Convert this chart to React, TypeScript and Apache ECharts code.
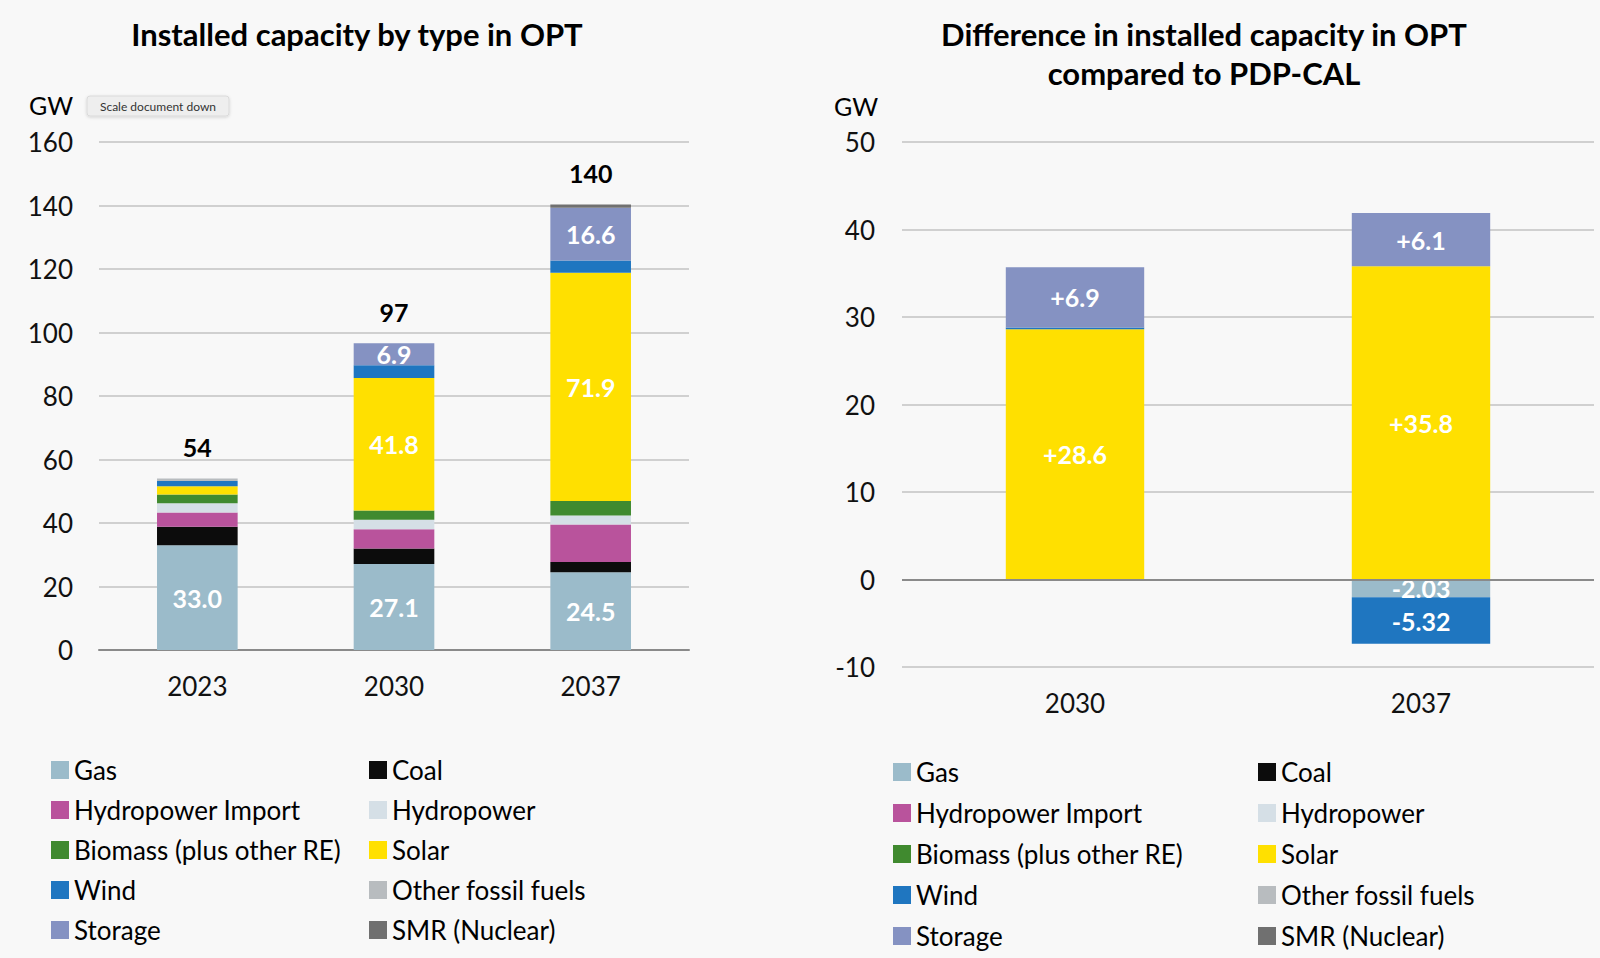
import React, { useEffect, useRef } from "react";
import * as echarts from "echarts";

// ---------- Data ----------
const yearsLeft = ["2023", "2030", "2037"];
const gas = [33.0, 27.1, 24.5];
const coal = [5.8, 4.9, 3.2];
const hydroImport = [4.5, 6.0, 11.8];
const hydropower = [2.9, 3.0, 2.9];
const biomass = [2.8, 2.9, 4.5];
const solar = [2.6, 41.8, 71.9];
const wind = [1.6, 4.0, 3.9];
const otherFossil = [0.8, 0, 0];
const storage = [0, 6.9, 16.6];
const smr = [0, 0, 1.0];

const yearsRight = ["2030", "2037"];
const dGas = [0, -2.03];
const dCoal = [0, 0];
const dHydroImport = [0, 0];
const dHydropower = [0, 0];
const dBiomass = [0, 0];
const dSolar = [28.6, 35.8];
const dWind = [0.2, -5.32];
const dOtherFossil = [0, 0];
const dStorage = [6.9, 6.1];
const dSmr = [0, 0];

const leftTicks = { min: 0, max: 160, interval: 20 };
const rightTicks = { min: -10, max: 50, interval: 10 };

const names = [
  "Gas",
  "Coal",
  "Hydropower Import",
  "Hydropower",
  "Biomass (plus other RE)",
  "Solar",
  "Wind",
  "Other fossil fuels",
  "Storage",
  "SMR (Nuclear)",
];
const colors = [
  "#9bbbca",
  "#0c0c0c",
  "#b9539c",
  "#d5dfe6",
  "#408a2f",
  "#ffe000",
  "#1f76c0",
  "#b8bcbf",
  "#8592c2",
  "#707070",
];
const leftData = [gas, coal, hydroImport, hydropower, biomass, solar, wind, otherFossil, storage, smr];
const rightData = [dGas, dCoal, dHydroImport, dHydropower, dBiomass, dSolar, dWind, dOtherFossil, dStorage, dSmr];
const leftLabelled = ["Gas", "Solar", "Storage"];
const rightLabelled = ["Gas", "Solar", "Wind", "Storage"];

const FONT = "Lato, 'Open Sans', sans-serif";

export default function App() {
  const ref = useRef<HTMLDivElement>(null);

  useEffect(() => {
    if (!ref.current) return;
    const chart = echarts.init(ref.current, null, { renderer: "svg" });

    const totals = yearsLeft.map((_, i) =>
      leftData.reduce((s, arr) => s + arr[i], 0)
    );

    const labelStyle = {
      color: "#ffffff",
      fontWeight: "bold" as const,
      fontSize: 25,
      fontFamily: FONT,
    };

    const leftSeries: any[] = names.map((n, k) => ({
      name: n,
      type: "bar",
      stack: "left",
      xAxisIndex: 0,
      yAxisIndex: 0,
      barWidth: "41%",
      barGap: "-100%",
      data: leftData[k],
      itemStyle: { color: colors[k] },
      label: {
        show: leftLabelled.includes(n),
        position: "inside",
        ...labelStyle,
        formatter: (p: any) => (p.value > 5 ? Number(p.value).toFixed(1) : ""),
      },
    }));
    leftSeries.push({
      name: "Total",
      type: "bar",
      xAxisIndex: 0,
      yAxisIndex: 0,
      barWidth: "41%",
      barGap: "-100%",
      data: totals,
      silent: true,
      z: 1,
      itemStyle: { color: "rgba(0,0,0,0)" },
      label: {
        show: true,
        position: "top",
        distance: 19,
        color: "#000",
        fontWeight: "bold",
        fontSize: 25,
        fontFamily: FONT,
        formatter: (p: any) => String(Math.round(p.value)),
      },
    });

    const rightSeries: any[] = names.map((n, k) => ({
      name: n,
      type: "bar",
      stack: "right",
      xAxisIndex: 1,
      yAxisIndex: 1,
      barWidth: "40%",
      data: rightData[k],
      itemStyle: { color: colors[k] },
      label: {
        show: rightLabelled.includes(n),
        position: "inside",
        ...labelStyle,
        formatter: (p: any) => {
          const v = Number(p.value);
          if (v < 0) return v.toFixed(2);
          if (v >= 1) return "+" + v.toFixed(1);
          return "";
        },
      },
      ...(k === 0
        ? {
            markLine: {
              silent: true,
              symbol: "none",
              label: { show: false },
              lineStyle: { color: "#8a8a8a", width: 2, type: "solid" },
              data: [{ yAxis: 0 }],
            },
          }
        : {}),
    }));

    const legendText = { fontSize: 26, color: "#000", fontFamily: FONT, lineHeight: 26 };
    const col1 = names.filter((_, i) => i % 2 === 0);
    const col2 = names.filter((_, i) => i % 2 === 1);
    const mkLegend = (data: string[], left: number, top: number, gap: number) => ({
      data,
      orient: "vertical",
      left,
      top,
      itemWidth: 18,
      itemHeight: 18,
      itemGap: gap,
      icon: "rect",
      selectedMode: false,
      textStyle: legendText,
      padding: 0,
    });

    const axisLabel = { fontSize: 26, color: "#111", fontFamily: FONT };
    const splitLine = { show: true, lineStyle: { color: "#d0d0d0", width: 2 } };

    const option: any = {
      animation: false,
      backgroundColor: "#f8f8f8",
      grid: [
        { left: 99, right: 911, top: 142, bottom: 308 },
        { left: 902, right: 6, top: 142, bottom: 291 },
      ],
      xAxis: [
        {
          type: "category",
          gridIndex: 0,
          data: yearsLeft,
          axisTick: { show: false },
          axisLine: { show: true, lineStyle: { color: "#8a8a8a", width: 2 } },
          axisLabel: { ...axisLabel, margin: 23 },
        },
        {
          type: "category",
          gridIndex: 1,
          data: yearsRight,
          axisTick: { show: false },
          axisLine: { show: false },
          axisLabel: { ...axisLabel, margin: 23 },
        },
      ],
      yAxis: [
        {
          type: "value",
          gridIndex: 0,
          ...leftTicks,
          axisLine: { show: false },
          axisTick: { show: false },
          axisLabel: { ...axisLabel, margin: 26 },
          splitLine,
        },
        {
          type: "value",
          gridIndex: 1,
          ...rightTicks,
          axisLine: { show: false },
          axisTick: { show: false },
          axisLabel: { ...axisLabel, margin: 27 },
          splitLine,
        },
      ],
      legend: [
        mkLegend(col1, 51, 757, 14),
        mkLegend(col2, 369, 757, 14),
        mkLegend(col1, 893, 759, 15),
        mkLegend(col2, 1258, 759, 15),
      ],
      graphic: [
        {
          type: "text",
          x: 357,
          y: 34,
          style: {
            text: "Installed capacity by type in OPT",
            font: `bold 31px ${FONT}`,
            fill: "#000",
            textAlign: "center",
            textVerticalAlign: "middle",
          },
        },
        {
          type: "text",
          x: 1204,
          y: 34,
          style: {
            text: "Difference in installed capacity in OPT",
            font: `bold 31px ${FONT}`,
            fill: "#000",
            textAlign: "center",
            textVerticalAlign: "middle",
          },
        },
        {
          type: "text",
          x: 1204,
          y: 73,
          style: {
            text: "compared to PDP-CAL",
            font: `bold 31px ${FONT}`,
            fill: "#000",
            textAlign: "center",
            textVerticalAlign: "middle",
          },
        },
        {
          type: "text",
          x: 29,
          y: 105,
          style: {
            text: "GW",
            font: `25px ${FONT}`,
            fill: "#000",
            textVerticalAlign: "middle",
          },
        },
        {
          type: "text",
          x: 834,
          y: 106,
          style: {
            text: "GW",
            font: `25px ${FONT}`,
            fill: "#000",
            textVerticalAlign: "middle",
          },
        },
        {
          type: "rect",
          shape: { x: 87, y: 96, width: 142, height: 20, r: 3 },
          style: {
            fill: "#eeeeee",
            stroke: "#dadada",
            lineWidth: 1,
            shadowBlur: 3,
            shadowColor: "rgba(0,0,0,0.15)",
            shadowOffsetY: 1,
          },
        },
        {
          type: "text",
          x: 158,
          y: 106,
          style: {
            text: "Scale document down",
            font: `12px Lato, 'Open Sans', sans-serif`,
            fill: "#333",
            textAlign: "center",
            textVerticalAlign: "middle",
          },
        },
      ],
      series: [...leftSeries, ...rightSeries],
    };

    chart.setOption(option);
    return () => chart.dispose();
  }, []);

  return (
    <div
      ref={ref}
      style={{ position: "fixed", left: 0, top: 0, width: 1600, height: 958 }}
    />
  );
}
